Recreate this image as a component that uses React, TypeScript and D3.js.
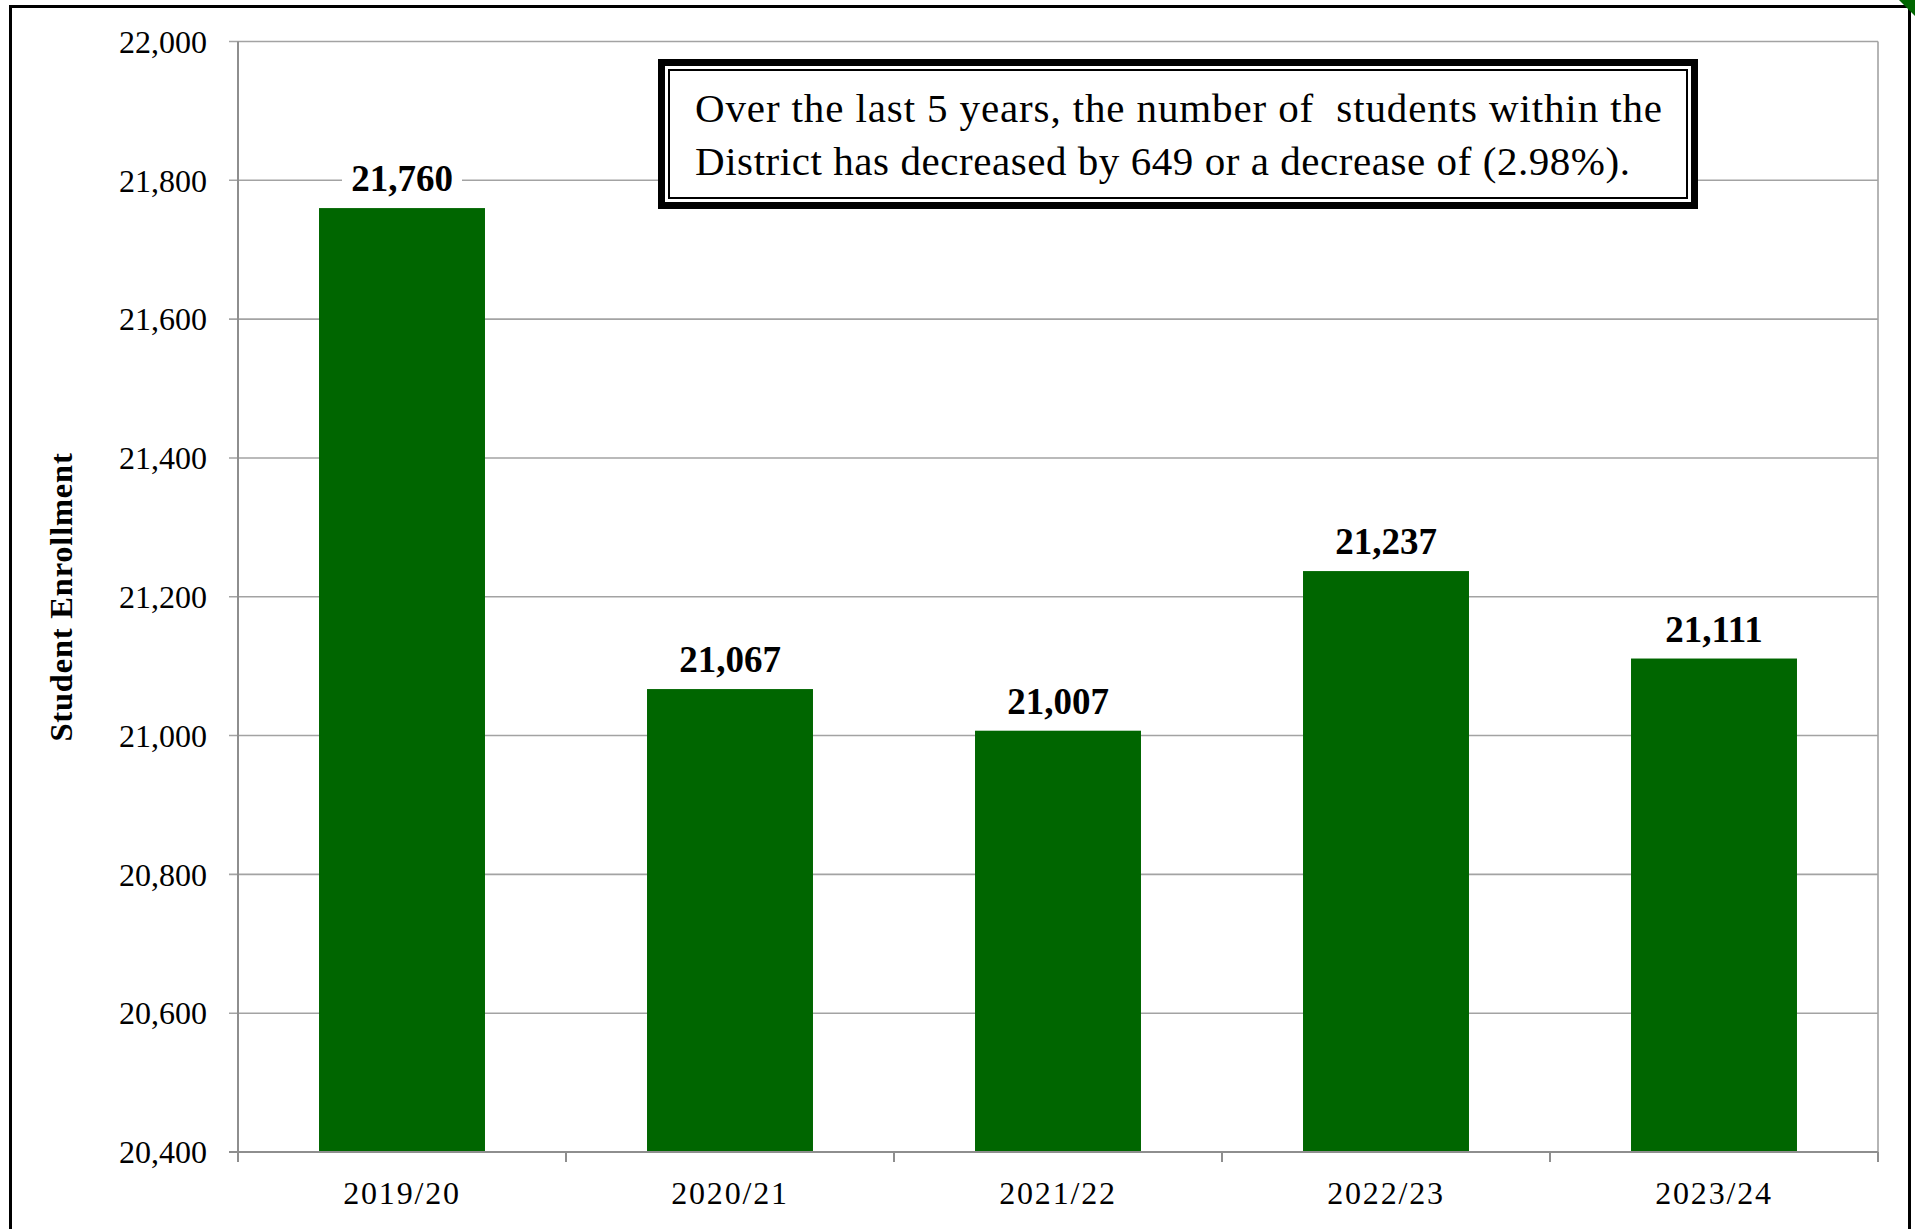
import * as d3 from "d3";

// enrollment by school year
const YEARS = ["2019/20", "2020/21", "2021/22", "2022/23", "2023/24"];
const ENROLLMENT = [21760, 21067, 21007, 21237, 21111];
const Y_TICKS = [20400, 20600, 20800, 21000, 21200, 21400, 21600, 21800, 22000];
const NOTE_LINES = [
  "Over the last 5 years, the number of  students within the",
  "District has decreased by 649 or a decrease of (2.98%).",
];

const W = 1915;
const H = 1229;
const FONT = "'Liberation Serif', 'Times New Roman', serif";
const GRID = "#a3a3a3";
const BAR = "#006600";

export default function App() {
  const left = 238, right = 1878, top = 41.5, bottom = 1152;

  const x = d3.scaleBand<string>().domain(YEARS).range([left, right])
    .paddingInner(0.494).paddingOuter(0.247);
  const y = d3.scaleLinear().domain([20400, 22000]).range([bottom, top]);
  const fmt = d3.format(",");

  // category boundaries for x ticks
  const step = x.step();
  const bounds = d3.range(YEARS.length + 1).map(i => left + i * step);

  return (
    <svg width={W} height={H} style={{ position: "absolute", left: 0, top: 0, background: "#fff" }}
      fontFamily={FONT}>
      <rect x={0} y={0} width={W} height={H} fill="#fff" />

      {/* gridlines */}
      {Y_TICKS.map(t => (
        <line key={t} x1={left - 9} x2={right} y1={y(t)} y2={y(t)} stroke={GRID} strokeWidth={1.6} />
      ))}
      <line x1={right} x2={right} y1={top} y2={bottom + 9} stroke={GRID} strokeWidth={1.6} />

      {/* bars */}
      {YEARS.map((c, i) => (
        <rect key={c} x={x(c)} y={y(ENROLLMENT[i])} width={x.bandwidth()}
          height={bottom - y(ENROLLMENT[i])} fill={BAR} />
      ))}

      {/* axes */}
      <line x1={left} x2={left} y1={top} y2={bottom} stroke="#8e8e8e" strokeWidth={2} />
      <line x1={left - 9} x2={right} y1={bottom} y2={bottom} stroke="#8e8e8e" strokeWidth={2} />
      {bounds.map((b, i) => (
        <line key={i} x1={b} x2={b} y1={bottom} y2={bottom + 10} stroke="#8e8e8e" strokeWidth={2} />
      ))}

      {/* y tick labels */}
      {Y_TICKS.map(t => (
        <text key={t} x={207} y={y(t)} dy="0.35em" textAnchor="end" fontSize={32} fill="#000">
          {fmt(t)}
        </text>
      ))}

      {/* x tick labels */}
      {YEARS.map(c => (
        <text key={c} x={x(c)! + x.bandwidth() / 2} y={1204} textAnchor="middle" fontSize={32}
          fill="#000" letterSpacing={1.8}>
          {c}
        </text>
      ))}

      {/* y axis title */}
      <text transform="translate(72,597) rotate(-90)" textAnchor="middle" fontSize={32.5}
        fontWeight="bold" fill="#000" letterSpacing={0.8}>
        Student Enrollment
      </text>

      {/* value labels */}
      {YEARS.map((c, i) => {
        const cx = x(c)! + x.bandwidth() / 2;
        const by = y(ENROLLMENT[i]) - 17;
        return (
          <g key={c}>
            <rect x={cx - 60} y={by - 32} width={120} height={40} fill="#fff" />
            <text x={cx} y={by} textAnchor="middle" fontSize={37} fontWeight="bold" fill="#000">
              {fmt(ENROLLMENT[i])}
            </text>
          </g>
        );
      })}

      {/* note box */}
      <rect x={661.5} y={62.5} width={1033} height={143} fill="#fff" stroke="#000" strokeWidth={7} />
      <rect x={669} y={70} width={1018} height={128} fill="none" stroke="#000" strokeWidth={2} />
      {NOTE_LINES.map((l, i) => (
        <text key={i} x={695} y={122 + i * 53} fontSize={41} fill="#000" xmlSpace="preserve"
          textLength={i === 0 ? 967 : 935} lengthAdjust="spacing">
          {l}
        </text>
      ))}

      {/* outer frame */}
      <rect x={10.5} y={6.5} width={1899} height={H + 20} fill="none" stroke="#000" strokeWidth={3} />
      <polygon points="1899,0 1915,0 1915,16" fill={BAR} />
    </svg>
  );
}
